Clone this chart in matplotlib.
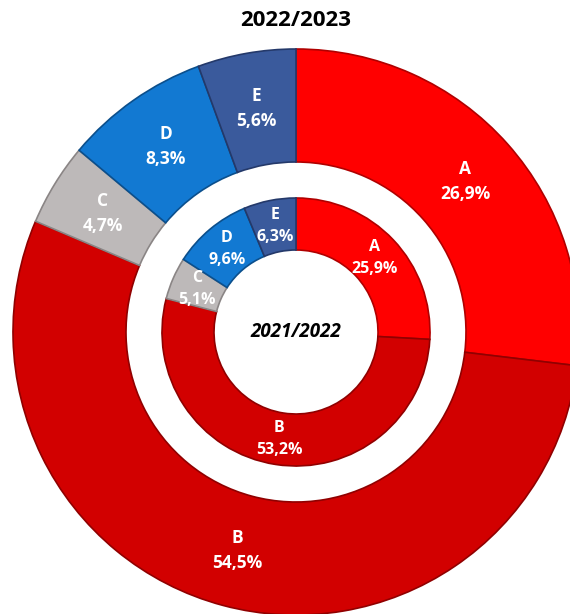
import numpy as np
import matplotlib.pyplot as plt

categories = ["A", "B", "C", "D", "E"]
values_2223 = [26.9, 54.5, 4.7, 8.3, 5.6]
values_2122 = [25.9, 53.2, 5.1, 9.6, 6.3]
title_outer = "2022/2023"
title_inner = "2021/2022"

colors = ["#FF0000", "#D20000", "#BDB9B9", "#1279D2", "#3A5A9C"]
edges = ["#B00000", "#900000", "#8A8585", "#0B4F8C", "#24396A"]

fig = plt.figure(figsize=(5.70, 6.14), dpi=100)
ax = fig.add_axes([0, 0, 1, 1])

R_out, W_out = 283, 113
R_in, W_in = 134, 52

def ring(vals, radius, width, fs):
    wedges, _ = ax.pie(vals, radius=radius, startangle=90, counterclock=False,
                       colors=colors,
                       wedgeprops=dict(width=width, linewidth=1.2))
    for w, e, cat, v in zip(wedges, edges, categories, vals):
        w.set_edgecolor(e)
        ang = np.deg2rad((w.theta1 + w.theta2) / 2)
        r = radius - width / 2
        x, y = r * np.cos(ang), r * np.sin(ang)
        txt = f"{cat}\n{v:.1f}%".replace(".", ",")
        ax.text(x, y, txt, ha="center", va="center", color="white",
                fontsize=fs, fontweight="bold", family="Open Sans",
                linespacing=1.5)

ring(values_2223, R_out, W_out, 12.5)
ring(values_2122, R_in, W_in, 11.5)

ax.text(0, 0, title_inner, ha="center", va="center", fontsize=13.5,
        fontweight="bold", fontstyle="italic", family="Open Sans", color="black")
ax.text(0, 332 - 21, title_outer, ha="center", va="center", fontsize=16,
        fontweight="bold", family="Open Sans", color="black")

ax.set_xlim(-296, 274)
ax.set_ylim(-282, 332)
ax.set_aspect("equal")
ax.axis("off")
fig.savefig("out.png", dpi=100)
